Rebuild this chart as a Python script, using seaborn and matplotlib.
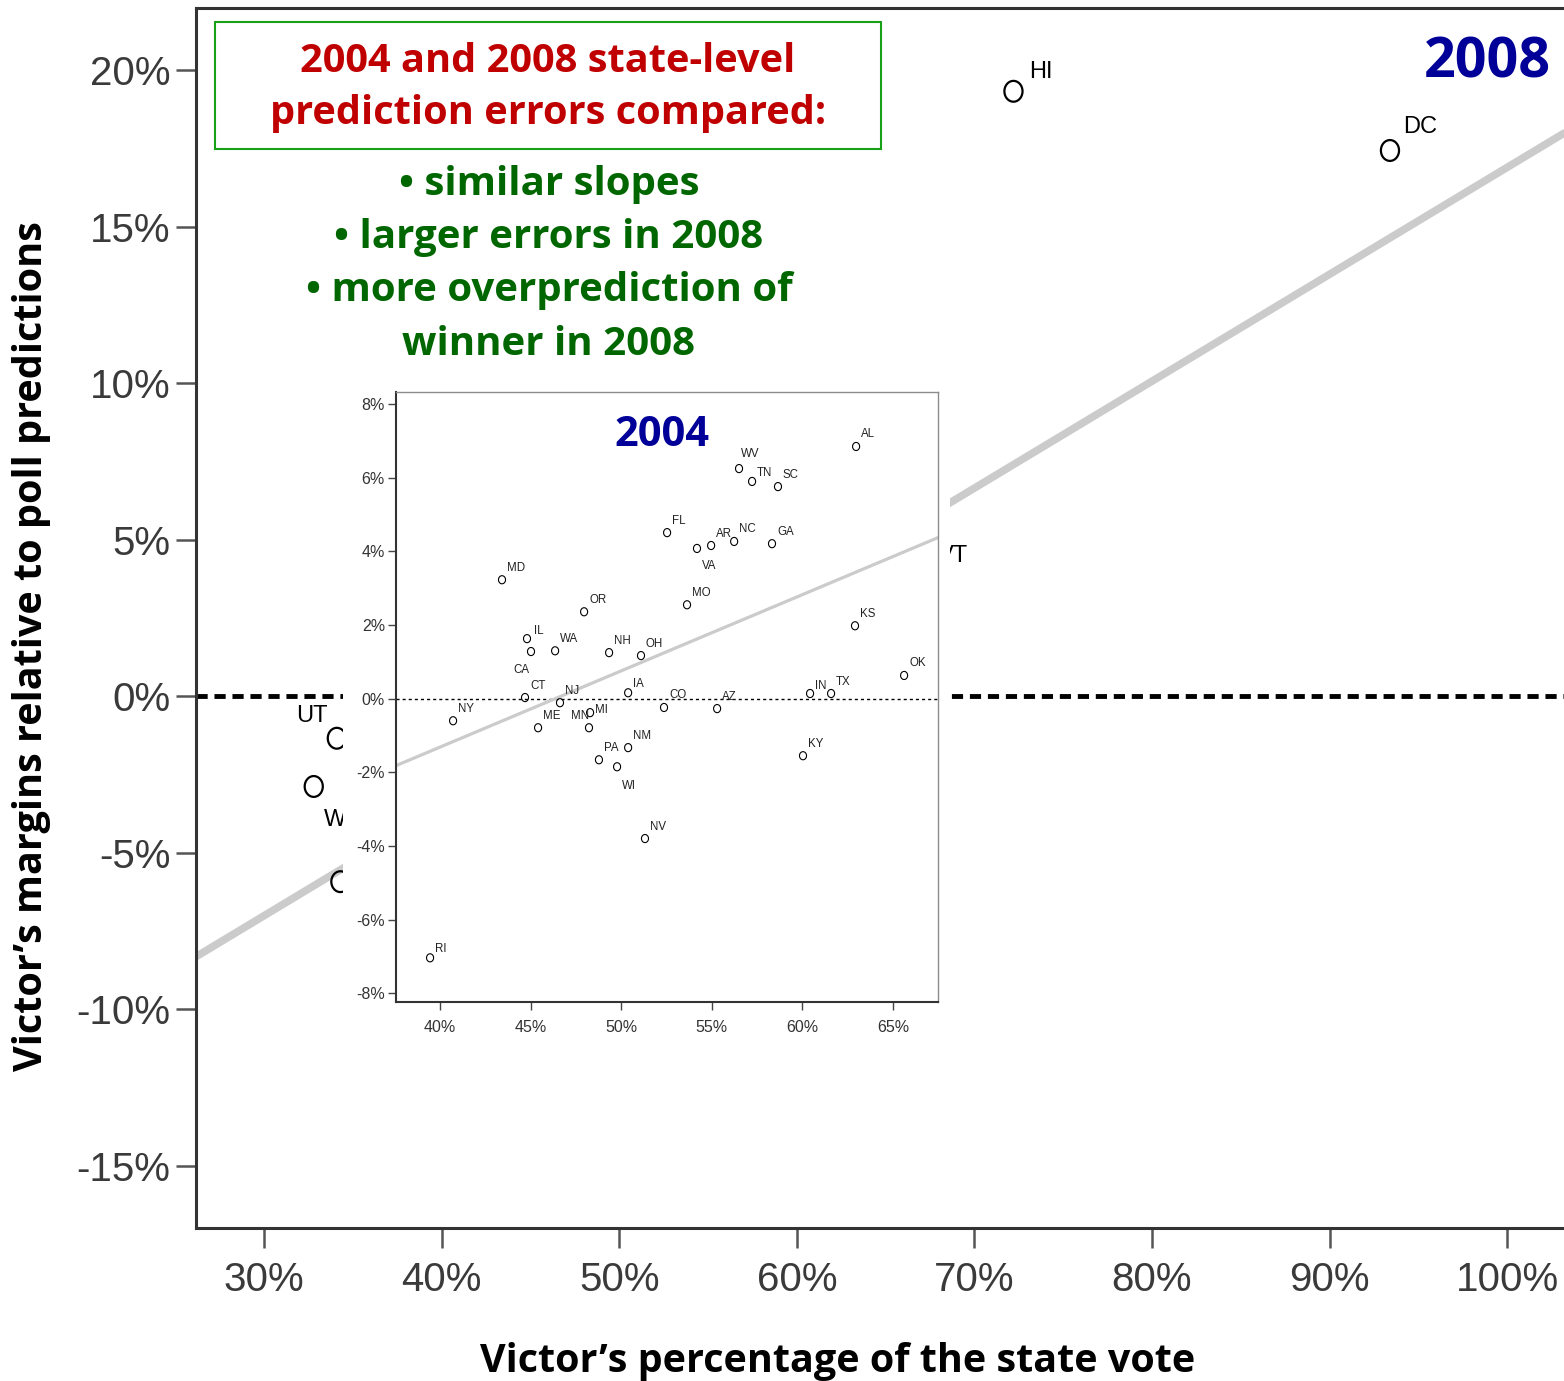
import numpy as np
import pandas as pd
import matplotlib
matplotlib.use("Agg")
import matplotlib.pyplot as plt
import seaborn as sns
from matplotlib import font_manager as fm
from matplotlib.path import Path
from matplotlib.patches import Rectangle
from matplotlib.ticker import FuncFormatter

# ---------------------------------------------------------------- data
# 2008: states whose points are visible around the 2004 panel
states_2008 = ["UT", "WY", "OK", "VT", "HI", "DC"]
vote_2008 = [34.1, 32.8, 34.3, 67.2, 72.2, 93.4]
error_2008 = [-1.34, -2.88, -5.92, 3.74, 19.32, 17.43]
fit_2008 = [-17.25, 0.3414]          # intercept, slope of the 2008 fit line

# 2004 state-level errors
states_2004 = ["RI", "NY", "MD", "IL", "CA", "WA", "CT", "NJ", "ME", "MN",
               "MI", "PA", "WI", "NM", "NV", "IA", "OH", "NH", "OR", "CO",
               "AZ", "FL", "VA", "AR", "NC", "MO", "WV", "TN", "SC", "GA",
               "AL", "KS", "OK", "IN", "TX", "KY"]
vote_2004 = [39.45, 40.72, 43.42, 44.80, 45.02, 46.35, 44.69, 46.62, 45.41, 48.28,
             48.22, 48.77, 49.77, 50.38, 51.31, 50.38, 51.09, 49.33, 47.95, 52.36,
             55.29, 52.53, 54.18, 54.96, 56.23, 53.63, 56.50, 57.22, 58.65, 58.32,
             62.96, 62.90, 65.61, 60.42, 61.58, 60.03]
error_2004 = [-7.04, -0.60, 3.23, 1.63, 1.28, 1.30, 0.03, -0.11, -0.79, -0.38,
              -0.79, -1.66, -1.85, -1.33, -3.80, 0.16, 1.17, 1.25, 2.36, -0.24,
              -0.27, 4.51, 4.08, 4.16, 4.27, 2.55, 6.25, 5.90, 5.76, 4.21,
              6.85, 1.98, 0.63, 0.14, 0.14, -1.55]
fit_2004 = [-9.60, 0.2071]

x_ticks_2008 = list(range(30, 101, 10))
y_ticks_2008 = list(range(-15, 21, 5))
x_ticks_2004 = list(range(40, 66, 5))
y_ticks_2004 = list(range(-8, 9, 2))

df08 = pd.DataFrame({"state": states_2008, "vote": vote_2008, "error": error_2008})
df04 = pd.DataFrame({"state": states_2004, "vote": vote_2004, "error": error_2004})

# ---------------------------------------------------------------- style
W, H, DPI = 1564, 1381, 100
sns.set_theme(style="ticks")


def has_font(name):
    try:
        fm.findfont(fm.FontProperties(family=name), fallback_to_default=False)
        return True
    except Exception:
        return False


NARROW = has_font("Liberation Sans Narrow")
TICK_FONT = "Liberation Sans Narrow" if NARROW else "Liberation Sans"
HEAD_FONT = "Open Sans"
plt.rcParams["font.family"] = [TICK_FONT, "DejaVu Sans"]

RED = "#c00000"
GREEN = "#006600"
BLUE = "#000099"
FIT_GREY = "#cbcbcb"

# slightly tall open-circle marker
_t = np.linspace(0, 2 * np.pi, 61)
ellipse = Path(np.column_stack([0.87 * np.cos(_t), np.sin(_t)]), closed=True)


def fx(px):
    return px / W


def fy(py):
    return 1 - py / H


pct = FuncFormatter(lambda v, _: f"{v:.0f}%")

fig = plt.figure(figsize=(W / DPI, H / DPI), dpi=DPI)
fig.patch.set_facecolor("white")

# ---------------------------------------------------------------- 2008 main panel
ax = fig.add_axes([fx(196), fy(1228), fx(1564) - fx(196), fy(8) - fy(1228)])
ax.set_zorder(0)

lim_x08 = np.array([26.17, 103.2])
sns.lineplot(x=lim_x08, y=fit_2008[0] + fit_2008[1] * lim_x08, ax=ax,
             color=FIT_GREY, lw=5.5, zorder=2)
ax.axhline(0, color="black", lw=3.5, ls=(0, (2.3, 1.4)), dash_capstyle="butt", zorder=1)
sns.scatterplot(data=df08, x="vote", y="error", ax=ax, marker=ellipse, s=225,
                facecolor="none", edgecolor="black", linewidth=1.6, zorder=3)

# white backing behind the 2004 panel (also used to clip the 2008 labels)
backing = Rectangle((fx(343), fy(1066)), fx(950) - fx(343), fy(382) - fy(1066),
                    transform=fig.transFigure, facecolor="white",
                    edgecolor="none", zorder=1)

lab08_off = {"UT": (-41, 16), "WY": (10, -40), "OK": (13, 17),
             "VT": (13, 17), "HI": (16, 13), "DC": (13, 17)}
lab08_size = 20 if NARROW else 17
for s, x, y in zip(states_2008, vote_2008, error_2008):
    ax.annotate(s, (x, y), xytext=lab08_off[s], textcoords="offset pixels",
                ha="left", va="baseline", fontsize=lab08_size, color="black")

ax.set_xlim(*lim_x08)
ax.set_ylim(-16.98, 21.98)
ax.set_xticks(x_ticks_2008)
ax.set_yticks(y_ticks_2008)
ax.xaxis.set_major_formatter(pct)
ax.yaxis.set_major_formatter(pct)
ax.set_xlabel("")
ax.set_ylabel("")
tick08 = 33 if NARROW else 29
ax.tick_params(axis="both", direction="out", length=14.5, width=1.8,
               color="#555555", labelcolor="#3a3a3a", labelsize=tick08)
ax.tick_params(axis="x", pad=9)
ax.tick_params(axis="y", pad=4)
for side in ["left", "bottom", "top"]:
    ax.spines[side].set_linewidth(2.2)
    ax.spines[side].set_color("#333333")
ax.spines["right"].set_visible(False)

fig.add_artist(backing)

# ---------------------------------------------------------------- 2004 inset panel
ins = fig.add_axes([fx(396), fy(1002), fx(938) - fx(396), fy(392) - fy(1002)])
ins.set_zorder(2)
ins.set_facecolor("white")

lim_x04 = np.array([37.57, 67.48])
sns.lineplot(x=lim_x04, y=fit_2004[0] + fit_2004[1] * lim_x04, ax=ins,
             color=FIT_GREY, lw=2.3, zorder=2)
ins.axhline(0, color="black", lw=1.0, ls=(0, (2.2, 2.2)), zorder=1)
sns.scatterplot(data=df04, x="vote", y="error", ax=ins, marker=ellipse, s=34,
                facecolor="none", edgecolor="black", linewidth=0.8, zorder=3)

lab04_off = {"VA": (5, -21), "CA": (-18, -21), "MN": (-19, -6), "MI": (6, 15),
             "WI": (5, -22), "WV": (2, 12), "TN": (5, 5), "IN": (5, 5),
             "IA": (5, 6), "IL": (7, 5), "RI": (5, 6)}
lab04_size = 10.5 if NARROW else 8.3
for s, x, y in zip(states_2004, vote_2004, error_2004):
    ins.annotate(s, (x, y), xytext=lab04_off.get(s, (5, 9)), textcoords="offset pixels",
                 ha="left", va="baseline", fontsize=lab04_size, color="#222222")

ins.set_xlim(*lim_x04)
ins.set_ylim(-8.24, 8.33)
ins.set_xticks(x_ticks_2004)
ins.set_yticks(y_ticks_2004)
ins.xaxis.set_major_formatter(pct)
ins.yaxis.set_major_formatter(pct)
ins.set_xlabel("")
ins.set_ylabel("")
tick04 = 15 if NARROW else 11.5
ins.tick_params(axis="both", direction="out", length=6, width=1.0,
                color="#444444", labelcolor="#333333", labelsize=tick04)
ins.tick_params(axis="x", pad=7)
ins.tick_params(axis="y", pad=2)
for side in ["left", "bottom"]:
    ins.spines[side].set_linewidth(1.5)
    ins.spines[side].set_color("#333333")
for side in ["top", "right"]:
    ins.spines[side].set_visible(True)
    ins.spines[side].set_linewidth(1.0)
    ins.spines[side].set_color("#8c8c8c")

# ---------------------------------------------------------------- annotations
def head(txt, px, py, color, size, **kw):
    return fig.text(fx(px), fy(py), txt, ha=kw.pop("ha", "center"),
                    va=kw.pop("va", "baseline"), color=color, fontsize=size,
                    fontweight="bold", family=[HEAD_FONT, "DejaVu Sans"], zorder=4, **kw)


def fit_to(texts, target, ref=0, vertical=False):
    r = fig.canvas.get_renderer()
    bb = texts[ref].get_window_extent(r)
    cur = bb.height if vertical else bb.width
    for t in texts:
        t.set_fontsize(t.get_fontsize() * target / cur)


fig.add_artist(Rectangle((fx(215), fy(149)), fx(881) - fx(215), fy(22) - fy(149),
                         transform=fig.transFigure, facecolor="none",
                         edgecolor="#19a019", lw=1.5, zorder=4))

red = [head("2004 and 2008 state-level", 548, 72, RED, 28),
       head("prediction errors compared:", 548, 124, RED, 28)]
fit_to(red, 556, ref=1)

green = [head("\u2022 similar slopes", 549, 195, GREEN, 28),
         head("\u2022 larger errors in 2008", 549, 248, GREEN, 28),
         head("\u2022 more overprediction of", 549, 301, GREEN, 28),
         head("winner in 2008", 549, 355, GREEN, 28)]
fit_to(green, 488, ref=2)

y08 = head("2008", 1487, 77, BLUE, 40)
fit_to([y08], 127)
y04 = head("2004", 662, 446, BLUE, 30)
fit_to([y04], 95)

xl = head("Victor\u2019s percentage of the state vote", 838, 1372, "black", 30)
fit_to([xl], 715)
yl = head("Victor\u2019s margins relative to poll predictions", 32, 646, "black", 30,
          va="center", rotation=90)
fit_to([yl], 850, vertical=True)

fig.savefig("out.png", dpi=DPI, facecolor="white")
